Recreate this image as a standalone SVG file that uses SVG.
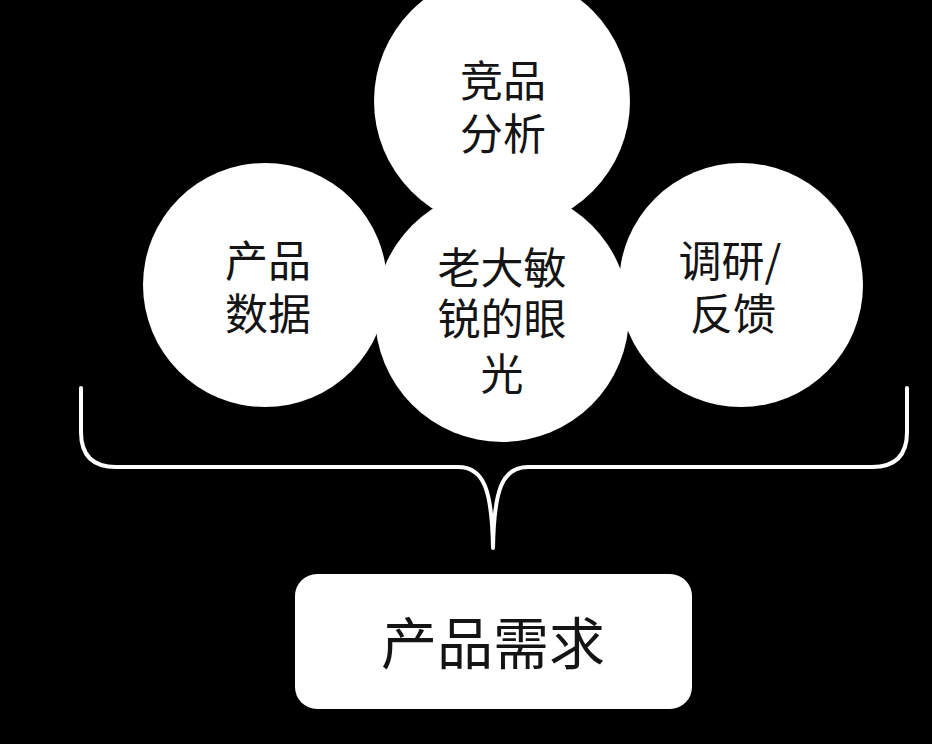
<svg xmlns="http://www.w3.org/2000/svg" width="932" height="744" viewBox="0 0 932 744">
<style>
.c{fill:#fff}
.t{font-family:"Noto Sans CJK SC","Noto Sans",sans-serif;fill:#141414;text-anchor:middle}
.s{font-size:43px}
.b{font-size:56px}
.br{fill:none;stroke:#fff;stroke-width:4;stroke-linecap:round;stroke-linejoin:round}
</style>
<rect width="932" height="744" fill="#000"/>
<g id="node-top"><circle class="c" cx="502" cy="101" r="128"/>
<text class="t s"><tspan x="503" y="97">竞品</tspan><tspan x="503" y="150">分析</tspan></text></g>
<g id="node-left"><circle class="c" cx="265" cy="285" r="122"/>
<text class="t s"><tspan x="268" y="277">产品</tspan><tspan x="268" y="330">数据</tspan></text></g>
<g id="node-right"><circle class="c" cx="741" cy="285" r="122"/>
<text class="t s"><tspan x="730" y="277">调研/</tspan><tspan x="733" y="330">反馈</tspan></text></g>
<g id="node-center"><circle class="c" cx="502" cy="315" r="127"/>
<text class="t s"><tspan x="502" y="284">老大敏</tspan><tspan x="502" y="335">锐的眼</tspan><tspan x="502" y="390">光</tspan></text></g>
<g id="connectors"><path class="br" d="M81,388 L81,432 Q81,467 116,467 L458,467 C484,467 492,490 493,548 C494,490 502,467 528,467 L872,467 Q907,467 907,432 L907,388"/></g>
<g id="node-result"><rect class="c" x="295" y="574" width="397" height="135" rx="22"/>
<text class="t b" x="493" y="664">产品需求</text></g>
</svg>
